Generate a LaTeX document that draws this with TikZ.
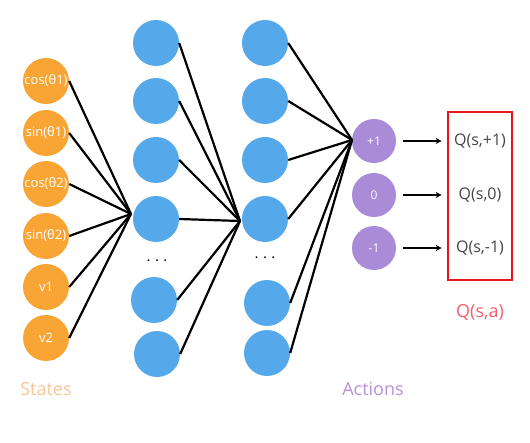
\documentclass[tikz,border=0pt]{standalone}
\usepackage{fontspec}
\setmainfont{Open Sans}
\usetikzlibrary{arrows.meta}
\definecolor{orng}{HTML}{F8A535}
\definecolor{blu}{HTML}{55A9EB}
\definecolor{purp}{HTML}{A98BD7}
\definecolor{lorng}{HTML}{F8C695}
\definecolor{lpurp}{HTML}{B98FDC}
\definecolor{boxred}{HTML}{E8131B}
\definecolor{qred}{HTML}{F0606E}
\definecolor{qgray}{HTML}{444444}
\tikzset{
  neuron/.style={circle, minimum size=46pt, inner sep=0pt, text=white, font=\fontsize{13}{13}\selectfont},
  onode/.style={neuron, fill=orng},
  bnode/.style={neuron, fill=blu},
  pnode/.style={neuron, fill=purp, minimum size=44pt, font=\fontsize{12}{12}\selectfont},
  wire/.style={line width=2.2pt, black},
  arr/.style={line width=2pt, black, -{Stealth[length=6pt,width=6pt]}},
  dots/.style={font=\fontsize{15}{15}\selectfont, inner sep=0pt},
  qtext/.style={text=qgray, font=\fontsize{16}{16}\selectfont, inner sep=0pt},
  caption/.style={font=\fontsize{18}{18}\selectfont, inner sep=0pt}
}
\begin{document}
\begin{tikzpicture}[x=1pt,y=-1pt]
\useasboundingbox (0,0) rectangle (530,443);
% input layer
\node[onode] (s1) at (46,81) {cos(θ1)};
\node[onode] (s2) at (46,133) {sin(θ1)};
\node[onode] (s3) at (46,184) {cos(θ2)};
\node[onode] (s4) at (46,236) {sin(θ2)};
\node[onode] (s5) at (46,287) {v1};
\node[onode] (s6) at (46,338) {v2};
% hidden layer 1
\node[bnode] (h1) at (156,43) {};
\node[bnode] (h2) at (156,101) {};
\node[bnode] (h3) at (156,160) {};
\node[bnode] (h4) at (156,219) {};
\node[dots] (d1) at (157,261) {.\hspace{4.5pt}.\hspace{4.5pt}.};
\node[bnode] (h5) at (154,300) {};
\node[bnode] (h6) at (157,354) {};
% hidden layer 2
\node[bnode] (g1) at (265,43) {};
\node[bnode] (g2) at (265,101) {};
\node[bnode] (g3) at (265,160) {};
\node[bnode] (g4) at (265,219) {};
\node[dots] (d2) at (265,258) {.\hspace{4.5pt}.\hspace{4.5pt}.};
\node[bnode] (g5) at (267,303) {};
\node[bnode] (g6) at (267,353) {};
% outputs
\node[pnode] (a1) at (374,141) {+1};
\node[pnode] (a2) at (374,195) {0};
\node[pnode] (a3) at (374,248) {-1};
% convergence points
\coordinate (c1) at (131,214);
\coordinate (c2) at (240,221);
\coordinate (c3) at (352,140);
\foreach \n in {s1,s2,s3,s4,s5,s6} \draw[wire] (\n.east) -- (c1);
\foreach \n in {h1,h2,h3,h4,h5,h6} \draw[wire] (\n.east) -- (c2);
\foreach \n in {g1,g2,g3,g4,g5,g6} \draw[wire] (\n.east) -- (c3);
% Q box
\node[draw=boxred, line width=2.6pt, minimum width=64pt, minimum height=168pt, inner sep=0pt] (qbox) at (480,196) {};
\node[qtext] (q1) at (480,141) {Q(s,+1)};
\node[qtext] (q2) at (480,195) {Q(s,0)};
\node[qtext] (q3) at (480,248) {Q(s,-1)};
\draw[arr, shorten <=7pt, shorten >=5pt] (a1.east) -- (qbox.west |- a1);
\draw[arr, shorten <=7pt, shorten >=5pt] (a2.east) -- (qbox.west |- a2);
\draw[arr, shorten <=7pt, shorten >=5pt] (a3.east) -- (qbox.west |- a3);
% captions
\node[caption, text=lorng] (st) at (46,389) {States};
\node[caption, text=lpurp] (ac) at (373,389) {Actions};
\node[caption, text=qred] (qa) at (480,313) {Q(s,a)};
\end{tikzpicture}
\end{document}
